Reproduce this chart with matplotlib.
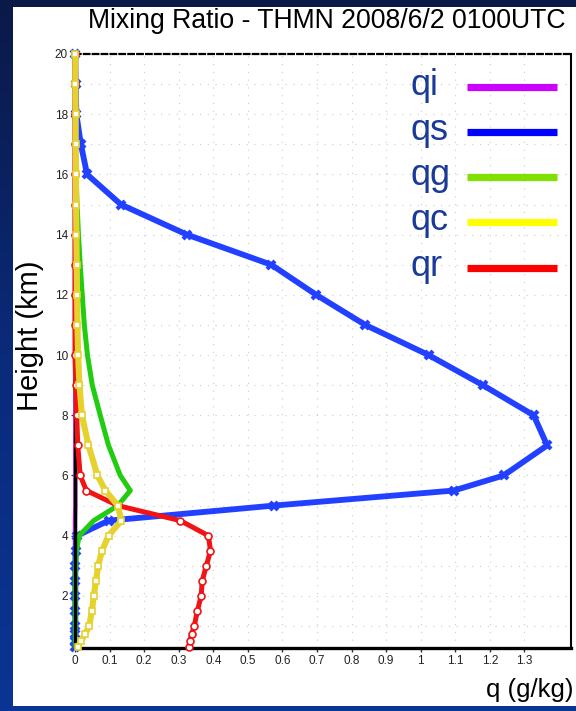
import matplotlib
matplotlib.use("Agg")
import numpy as np
import matplotlib.pyplot as plt
from matplotlib.patches import Rectangle
from matplotlib.colors import LinearSegmentedColormap

plt.rcParams['font.family'] = ['Liberation Sans', 'DejaVu Sans']

# model levels (km)
height_km = [0.3, 0.5, 0.75, 1, 1.5, 2, 2.5, 3, 3.5, 4, 4.5, 5, 5.5, 6,
             7, 8, 9, 10, 11, 12, 13, 14, 15, 16, 17, 18, 19, 20]

# mixing ratios (g/kg)
qi = [0, 0, 0, 0, 0, 0, 0, 0, 0, 0, 0, 0.001, 0.001, 0.001,
      0.001, 0.001, 0.001, 0.001, 0, 0, 0, 0, 0, 0, 0, 0, 0, 0]
qs = [0.001, 0.001, 0.001, 0.001, 0.001, 0.001, 0.001, 0.001, 0.002, 0.006,
      0.097, 0.575, 1.096, 1.24, 1.366, 1.327, 1.18, 1.023, 0.84, 0.698,
      0.568, 0.324, 0.133, 0.035, 0.017, 0.004, 0.002, 0.001]
qg = [0.001, 0.001, 0.001, 0.001, 0.001, 0.001, 0.001, 0.002, 0.004, 0.012,
      0.054, 0.124, 0.16, 0.131, 0.097, 0.073, 0.05, 0.036, 0.027, 0.021,
      0.015, 0.01, 0.006, 0.003, 0.002, 0.001, 0.001, 0.001]
qc = [0.008, 0.017, 0.03, 0.041, 0.049, 0.054, 0.061, 0.067, 0.078, 0.097,
      0.134, 0.124, 0.088, 0.065, 0.039, 0.020, 0.013, 0.009, 0.007, 0.006,
      0.005, 0.004, 0.003, 0.003, 0.002, 0.002, 0.001, 0.001]
qr = [0.330, 0.332, 0.338, 0.345, 0.354, 0.365, 0.368, 0.380, 0.392, 0.386,
      0.305, 0.124, 0.033, 0.015, 0.008, 0.005, 0.002, 0, 0, 0,
      0, 0, 0, 0, 0, 0, 0, 0]

species = ['qi', 'qs', 'qg', 'qc', 'qr']
line_colors = ['#cc22ff', '#2240ff', '#22cc10', '#e6d22e', '#f01414']
key_colors = ['#cc00ff', '#0000ff', '#80e000', '#ffff00', '#ff0000']

x_ticks = [0, 0.1, 0.2, 0.3, 0.4, 0.5, 0.6, 0.7, 0.8, 0.9, 1, 1.1, 1.2, 1.3]
x_tick_labels = ['0', '0.1', '0.2', '0.3', '0.4', '0.5', '0.6', '0.7', '0.8',
                 '0.9', '1', '1.1', '1.2', '1.3']
y_ticks = [2, 4, 6, 8, 10, 12, 14, 16, 18, 20]

fig = plt.figure(figsize=(5.76, 7.11), dpi=100)

# navy gradient backdrop
bg = fig.add_axes([0, 0, 1, 1], zorder=-10)
cmap = LinearSegmentedColormap.from_list('bg', ['#0b1947', '#0a2a7a', '#0a3594'])
bg.imshow(np.linspace(0, 1, 256).reshape(-1, 1), aspect='auto', cmap=cmap,
          extent=[0, 1, 0, 1], origin='upper')
bg.set_axis_off()
bg.add_patch(Rectangle((13 / 576, 5 / 711), 1, (706 - 7) / 711,
                       transform=bg.transAxes, facecolor='white',
                       edgecolor='none'))

ax = fig.add_axes([75 / 576, 1 - 648 / 711, (571 - 75) / 576, (648 - 54) / 711])
ax.set_facecolor('white')

series = [qi, qs, qg, qc, qr]
styles = {
    'qi': dict(lw=3.2, zorder=2),
    'qs': dict(lw=4.2, zorder=3, marker='x', ms=6, mew=3),
    'qg': dict(lw=3.6, zorder=4),
    'qr': dict(lw=3.6, zorder=6, marker='o', ms=5, mfc='white', mew=1.2),
    'qc': dict(lw=4.4, zorder=7, marker='s', ms=5, mfc='white', mew=1.2),
}
for name, vals, col in zip(species, series, line_colors):
    st = dict(styles[name])
    if 'marker' in st:
        st['mec'] = col
    ax.plot(vals, height_km, color=col, solid_capstyle='round', clip_on=False, **st)

ax.set_xlim(0, 1.435)
ax.set_ylim(0.27, 20.0)
ax.set_xticks(x_ticks)
ax.set_xticklabels(x_tick_labels)
ax.set_yticks(y_ticks)
ax.set_yticks(np.arange(1, 20, 2), minor=True)
ax.tick_params(axis='both', which='major', labelsize=8.5, labelcolor='#222222',
               length=3, width=1, color='#333333', pad=2)
ax.tick_params(axis='y', which='minor', length=0)
ax.grid(True, which='both', color='#cccccc', linestyle=(0, (1, 6)), linewidth=0.8)
ax.set_axisbelow(True)

for s in ['left', 'bottom']:
    ax.spines[s].set_linewidth(2.4)
    ax.spines[s].set_color('black')
ax.spines['left'].set_zorder(5)
ax.spines['right'].set_linewidth(1.5)
ax.spines['top'].set_linewidth(1.6)
ax.spines['top'].set_linestyle((0, (2.5, 1.5)))

# key: labels on the left, colour bars on the right
key_y = [87, 132, 177, 222, 268]
for name, col, yp in zip(species, key_colors, key_y):
    fy = 1 - yp / 711
    fig.text(411 / 576, fy - 8 / 711, name, fontsize=26, color='#1a3a98',
             ha='left', va='baseline')
    fig.add_artist(plt.Line2D([467 / 576, 557 / 576], [fy, fy], color=col,
                              lw=5.2, solid_capstyle='butt'))

fig.text(327 / 576, 1 - 21 / 711, 'Mixing Ratio - THMN 2008/6/2 0100UTC',
         fontsize=19.2, color='black', ha='center', va='center')
fig.text(30 / 576, 1 - 336 / 711, 'Height (km)', fontsize=21, rotation=90,
         ha='center', va='center', color='black')
fig.text(573 / 576, 1 - 697 / 711, 'q (g/kg)', fontsize=18.5, ha='right',
         va='baseline', color='black')

fig.savefig('out.png', dpi=100)
